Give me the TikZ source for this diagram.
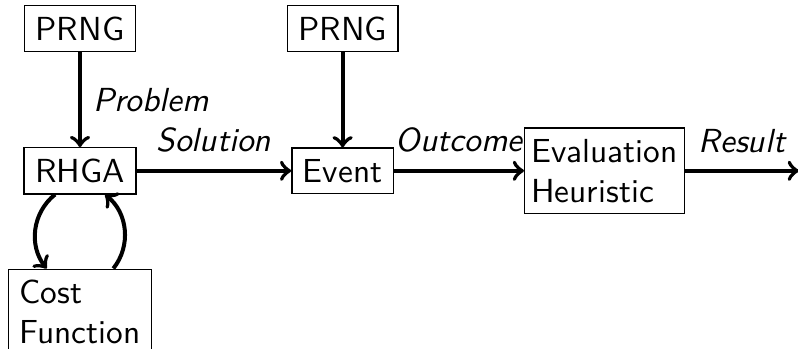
\documentclass[tikz,border=0pt]{standalone}
\usepackage{tikz}
\usetikzlibrary{arrows,positioning}
\tikzstyle{block}=[draw,rectangle,thin,align=left]
\tikzstyle{flow label}=[font=\sffamily\itshape]

\begin{document}
\begin{tikzpicture}[->,very thick,font=\sffamily,node distance=1cm]
  \useasboundingbox (0,0) rectangle (239.4pt,-104.7pt);

  \node[block] at (24pt,-8.55pt) (prngA) {PRNG};
  \node[block, below = of prngA] (rhga) {RHGA};
  \node[block, below = 0.78cm of rhga] (cost) {Cost\\Function};

  \node[block, right = 1.63cm of rhga] (event) {Event};
  \node[block, above = of event] (prngB) {PRNG};
  \node[block, inner xsep=2pt, right = 1.37cm of event] (eval) {Evaluation\\Heuristic};
  \coordinate[right = 1.2cm of eval] (result);

  \path (prngA) edge node[right,flow label] {Problem} (rhga);
  \path (rhga) edge node[above=1.5pt,flow label] {Solution} (event);
  \path (prngB) edge (event);
  \path (event) edge node[above=1.5pt,flow label] {Outcome} (eval);
  \path (eval) edge node[above=1.5pt,flow label] {Result} (result);

  % cost function loop
  \path ([xshift=-7.5pt]rhga.south) edge[bend right=45] ([xshift=-10pt]cost.north);
  \path ([xshift=10pt]cost.north) edge[bend right=45] ([xshift=7.5pt]rhga.south);
\end{tikzpicture}
\end{document}
